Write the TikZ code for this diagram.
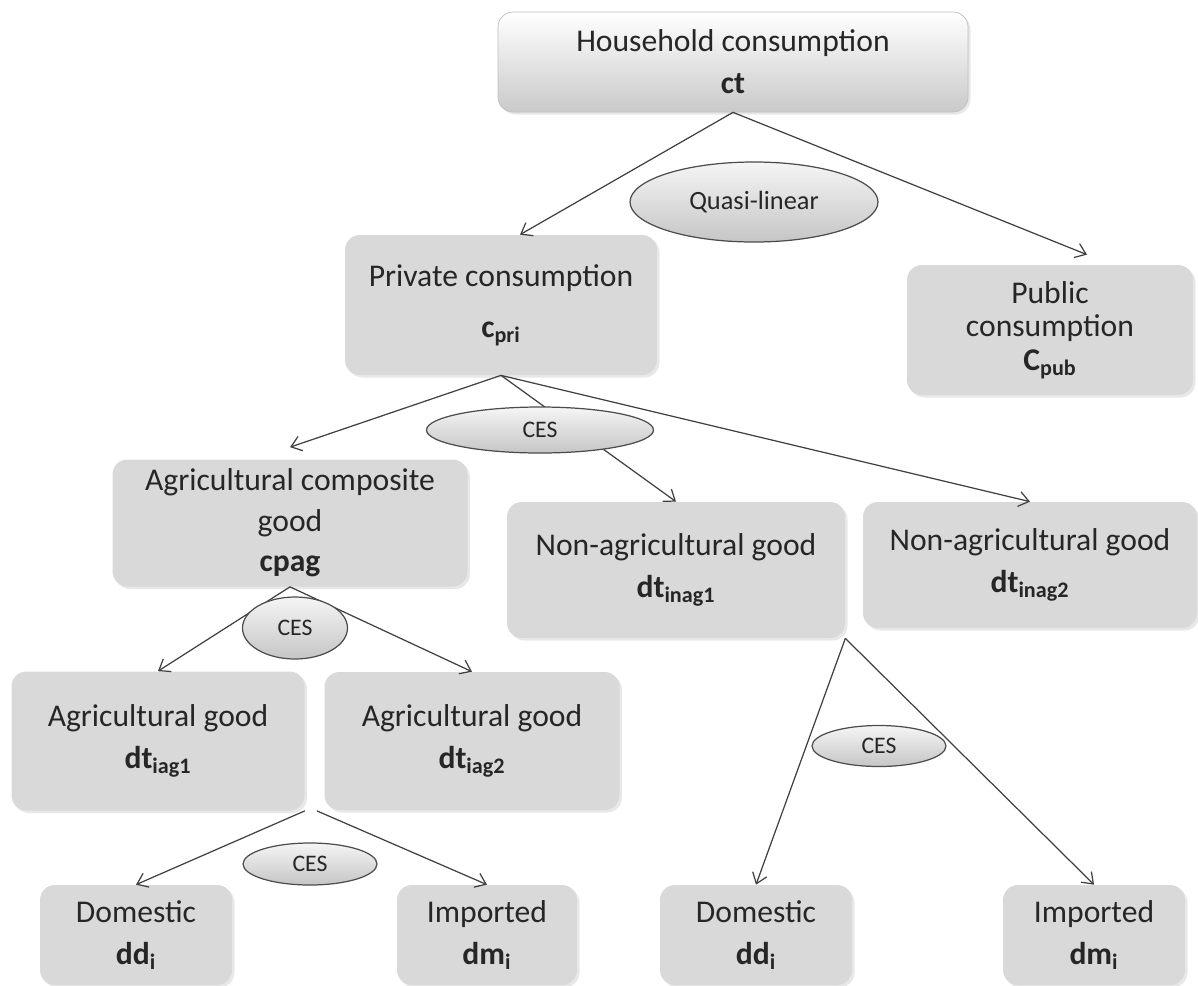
\documentclass[tikz,border=0pt]{standalone}
\usepackage{fontspec}
\setmainfont{Carlito}
\usetikzlibrary{positioning,shapes.geometric,shadows,arrows.meta}
\definecolor{boxgray}{RGB}{217,217,217}
\definecolor{txtgray}{RGB}{38,38,38}
\definecolor{linegray}{RGB}{64,64,64}
\newcommand{\lowidx}[1]{\textsubscript{#1}}

\begin{document}
\begin{tikzpicture}[x=0.02cm, y=-0.02cm,
	wh/.style 2 args={minimum width=#1*0.02cm, minimum height=#2*0.02cm},
	box/.style={rectangle, rounded corners=0.3cm, fill=boxgray, text=txtgray, align=center, inner sep=2pt,
		font=\fontsize{18}{24}\selectfont, drop shadow={shadow xshift=0.05cm, shadow yshift=-0.05cm, opacity=0.18}},
	topbox/.style={box, top color=white, bottom color=boxgray!93!black, draw=gray!50},
	sel/.style={ellipse, draw=black!70, line width=0.7pt, top color=gray!8, bottom color=gray!45, text=txtgray, inner sep=0pt},
	quasi/.style={sel, font=\fontsize{15}{17}\selectfont},
	ces/.style={sel, font=\fontsize{13.5}{15}\selectfont},
	arr/.style={-{Straight Barb[length=2mm, width=3mm]}, draw=linegray, line width=0.7pt}]
	\useasboundingbox (0,0) rectangle (1198,985);
	\node[topbox, wh={470}{100}] (hh) at (733,62) {Household consumption\\\textbf{ct}};
	\node[box, wh={312}{140}] (pri) at (501,305) {Private consumption\\[5pt]\textbf{c\lowidx{pri}}};
	\node[box, wh={286}{130}, font=\fontsize{18}{19}\selectfont] (pub) at (1050,330) {Public\\consumption\\\textbf{C\lowidx{pub}}};
	\node[box, wh={355}{127}, font=\fontsize{18}{23}\selectfont] (agc) at (290,523) {Agricultural composite\\good\\\textbf{cpag}};
	\node[box, wh={338}{136}] (nag1) at (676,570) {Non-agricultural good\\\textbf{dt\lowidx{inag1}}};
	\node[box, wh={334}{126}] (nag2) at (1030,565) {Non-agricultural good\\\textbf{dt\lowidx{inag2}}};
	\node[box, wh={293}{139}] (ag1) at (158,741) {Agricultural good\\\textbf{dt\lowidx{iag1}}};
	\node[box, wh={295}{138}] (ag2) at (472,741) {Agricultural good\\\textbf{dt\lowidx{iag2}}};
	\node[box, wh={192}{100}] (dom1) at (136,935) {Domestic\\\textbf{dd\lowidx{i}}};
	\node[box, wh={180}{100}] (imp1) at (487,935) {Imported\\\textbf{dm\lowidx{i}}};
	\node[box, wh={192}{100}] (dom2) at (756,935) {Domestic\\\textbf{dd\lowidx{i}}};
	\node[box, wh={182}{100}] (imp2) at (1094,935) {Imported\\\textbf{dm\lowidx{i}}};
	\draw[arr] (hh.south) -- ([xshift=0.38cm]pri.north);
	\draw[arr] (hh.south) -- ([xshift=0.74cm, yshift=0.2cm]pub.north);
	\draw[arr] (pri.south) -- ([yshift=0.24cm]agc.north);
	\draw[arr] (pri.south) -- (nag1.north);
	\draw[arr] (pri.south) -- (nag2.north);
	\draw[arr] (agc.south) -- (ag1.north);
	\draw[arr] (agc.south) -- (ag2.north);
	\draw[arr] (ag1.south east) -- (dom1.north);
	\draw[arr] ([xshift=0.24cm]ag1.south east) -- (imp1.north);
	\draw[arr] (nag1.south east) -- (dom2.north);
	\draw[arr] (nag1.south east) -- (imp2.north);
	\node[quasi, wh={248}{80}] (ql) at (754,202) {Quasi-linear};
	\node[ces, wh={227}{46}] (ces1) at (540,430) {CES};
	\node[ces, wh={105}{62}] (ces2) at (295,628) {CES};
	\node[ces, wh={134}{42}] (ces3) at (310,864) {CES};
	\node[ces, wh={134}{41}] (ces4) at (879,746) {CES};
\end{tikzpicture}
\end{document}
